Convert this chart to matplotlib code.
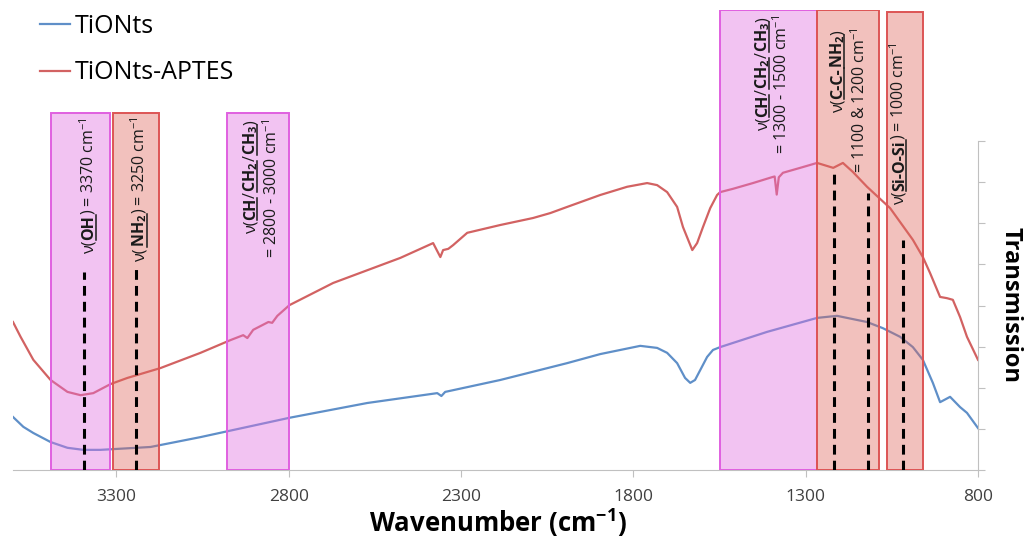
import matplotlib
matplotlib.use("Agg")
import matplotlib.pyplot as plt
from matplotlib.patches import Rectangle
from matplotlib.lines import Line2D
from matplotlib.transforms import IdentityTransform

plt.rcParams['font.family'] = ['Open Sans', 'DejaVu Sans']
plt.rcParams['mathtext.fontset'] = 'custom'
plt.rcParams['mathtext.rm'] = 'Open Sans'
plt.rcParams['mathtext.bf'] = 'Open Sans:bold'
plt.rcParams['mathtext.it'] = 'Open Sans:italic'

# TiONts-APTES spectrum (red)
red_wn = [3600, 3578, 3541, 3491, 3442, 3404, 3367, 3317, 3268, 3172, 3056, 2969,
          2932, 2920, 2903, 2859, 2848, 2833, 2798, 2671, 2476, 2381, 2360, 2352,
          2337, 2323, 2282, 2186, 2091, 2041, 1992, 1896, 1818, 1760, 1731, 1702,
          1673, 1656, 1629, 1615, 1598, 1577, 1557, 1548, 1511, 1453, 1395, 1390,
          1384, 1378, 1366, 1316, 1267, 1220, 1192, 1163, 1122, 1055, 989, 960,
          939, 910, 890, 873, 852, 832, 800]
red_t = [3.60, 3.24, 2.68, 2.19, 1.90, 1.82, 1.87, 2.09, 2.24, 2.48, 2.85, 3.16,
         3.28, 3.21, 3.41, 3.60, 3.58, 3.75, 4.01, 4.55, 5.16, 5.52, 5.18, 5.35,
         5.38, 5.47, 5.77, 5.96, 6.13, 6.25, 6.40, 6.69, 6.89, 6.98, 6.93, 6.76,
         6.40, 5.91, 5.35, 5.52, 5.91, 6.37, 6.69, 6.76, 6.84, 6.98, 7.13, 7.14,
         6.70, 7.12, 7.23, 7.35, 7.47, 7.35, 7.47, 7.25, 6.89, 6.37, 5.60, 5.18,
         4.79, 4.21, 4.18, 4.14, 3.72, 3.24, 2.68]

# TiONts spectrum (blue)
blue_wn = [3600, 3570, 3541, 3491, 3442, 3396, 3346, 3201, 3056, 2798, 2572, 2369,
           2357, 2346, 2186, 1992, 1896, 1780, 1731, 1702, 1673, 1650, 1635, 1621,
           1606, 1586, 1569, 1548, 1412, 1267, 1209, 1122, 1076, 1026, 989, 960,
           931, 910, 881, 852, 832, 800]
blue_t = [1.29, 1.05, 0.90, 0.68, 0.54, 0.49, 0.49, 0.56, 0.80, 1.27, 1.63, 1.87,
          1.80, 1.90, 2.19, 2.60, 2.82, 3.02, 2.97, 2.85, 2.60, 2.24, 2.12, 2.19,
          2.43, 2.75, 2.92, 2.99, 3.36, 3.70, 3.75, 3.60, 3.45, 3.24, 2.99, 2.68,
          2.12, 1.65, 1.78, 1.53, 1.39, 1.02]

# assignment bands: low / high wavenumber, box top
band_lo = [3320, 3175, 2800, 1267, 1087, 959]
band_hi = [3490, 3309, 2978, 1548, 1267, 1064]
band_top = [8.69, 8.69, 8.69, 11.19, 11.19, 11.14]
band_kind = ['m', 'r', 'm', 'm', 'r', 'r']

# dashed marker lines
peak_wn = [3395, 3242, 1218, 1119, 1017]
peak_top = [4.82, 4.96, 7.25, 6.74, 5.60]

xticks = [3300, 2800, 2300, 1800, 1300, 800]

fig = plt.figure(figsize=(10.3, 5.38), dpi=100)
ax = fig.add_axes([13 / 1030, 68 / 538, 965 / 1030, 460 / 538])

lb, = ax.plot(blue_wn, blue_t, color='#5f8fc8', lw=1.6, label='TiONts')
lr, = ax.plot(red_wn, red_t, color='#d26262', lw=1.6, label='TiONts-APTES')

face = {'m': (0.88, 0.44, 0.88, 0.42), 'r': (0.88, 0.40, 0.36, 0.40)}
edge = {'m': '#e060e0', 'r': '#dd5555'}
for lo, hi, top, k in zip(band_lo, band_hi, band_top, band_kind):
    ax.add_patch(Rectangle((lo, 0), hi - lo, top, facecolor=face[k],
                           edgecolor=edge[k], lw=1.4, zorder=3))

ax.vlines(peak_wn, 0, peak_top, colors='black', lw=2.2,
          linestyles=(0, (3.2, 2.0)), zorder=4)

ax.set_xlim(3600, 800)
ax.set_ylim(0, 11.19)
ax.set_xticks(xticks)
ax.set_xticklabels([str(t) for t in xticks])
ax.set_yticks(range(0, 9))
ax.set_yticklabels([])
ax.yaxis.tick_right()
for s in ['left', 'top']:
    ax.spines[s].set_visible(False)
ax.spines['right'].set_bounds(0, 8)
for s in ['right', 'bottom']:
    ax.spines[s].set_color('#c0c0c0')
ax.tick_params(axis='both', direction='out', length=5, color='#c0c0c0',
               labelsize=12.5, labelcolor='#404040')
ax.tick_params(axis='x', pad=9)
ax.patch.set_visible(False)

fig.text(0.483, 6 / 538, 'Wavenumber (cm$^{\\mathbf{-1}}$)', ha='center', va='baseline',
         fontsize=18.5, fontweight='bold')
fig.text(0.981, 0.433, 'Transmission', rotation=-90, ha='center', va='center',
         fontsize=17, fontweight='bold')


def put_label(xw, top_px, pieces, size=11.5):
    """vertical label made of (text, bold, underlined) pieces, ending at top_px"""
    r = fig.canvas.get_renderer()
    widths = []
    for s, bold, ul in pieces:
        t = fig.text(0, 0, s, fontsize=size, fontweight='bold' if bold else 'normal')
        widths.append(t.get_window_extent(renderer=r).width)
        t.remove()
    xd = ax.transData.transform((xw, 0))[0]
    y = (538 - top_px) - sum(widths)
    for (s, bold, ul), w in zip(pieces, widths):
        fig.text(xd, y, s, transform=IdentityTransform(), rotation=90,
                 rotation_mode='anchor', ha='left', va='baseline', fontsize=size,
                 fontweight='bold' if bold else 'normal', color='#1a1a1a', zorder=5)
        if ul:
            fig.add_artist(Line2D([xd + 2.2, xd + 2.2], [y, y + w], lw=1.1,
                                  color='#1a1a1a', transform=IdentityTransform()))
        y += w


ch_line = [('ν(', False, False), ('CH', True, True), ('/', False, False),
           ('$\\mathbf{CH_2}$', True, True), ('/', False, False),
           ('$\\mathbf{CH_3}$', True, True), (')', False, False)]

put_label(3367, 117, [('ν(', False, False), ('OH', True, True),
                      (') = 3370 cm$^{-1}$', False, False)])
put_label(3219, 116, [('ν(', False, False), ('$\\mathbf{NH_2}$', True, True),
                      (') = 3250 cm$^{-1}$', False, False)])
put_label(2897, 120, ch_line)
put_label(2833, 119, [('= 2800 - 3000 cm$^{-1}$', False, False)])
put_label(1412, 17, ch_line)
put_label(1354, 15, [('= 1300 - 1500 cm$^{-1}$', False, False)])
put_label(1194, 30, [('ν(', False, False), ('C-C-', True, True),
                     ('$\\mathbf{NH_2}$', True, True), (')', False, False)])
put_label(1128, 27, [('= 1100 & 1200 cm$^{-1}$', False, False)])
put_label(1015, 42, [('ν(', False, False), ('Si-O-Si', True, True),
                     (') = 1000 cm$^{-1}$', False, False)])

leg = ax.legend(handles=[lb, lr], loc='upper left', bbox_to_anchor=(40 / 1030, 1 - 14 / 538),
                bbox_transform=fig.transFigure, frameon=False, fontsize=18,
                handlelength=1.2, handletextpad=0.2, labelspacing=0.85, borderaxespad=0,
                borderpad=0)

fig.savefig('out.png', dpi=100)
